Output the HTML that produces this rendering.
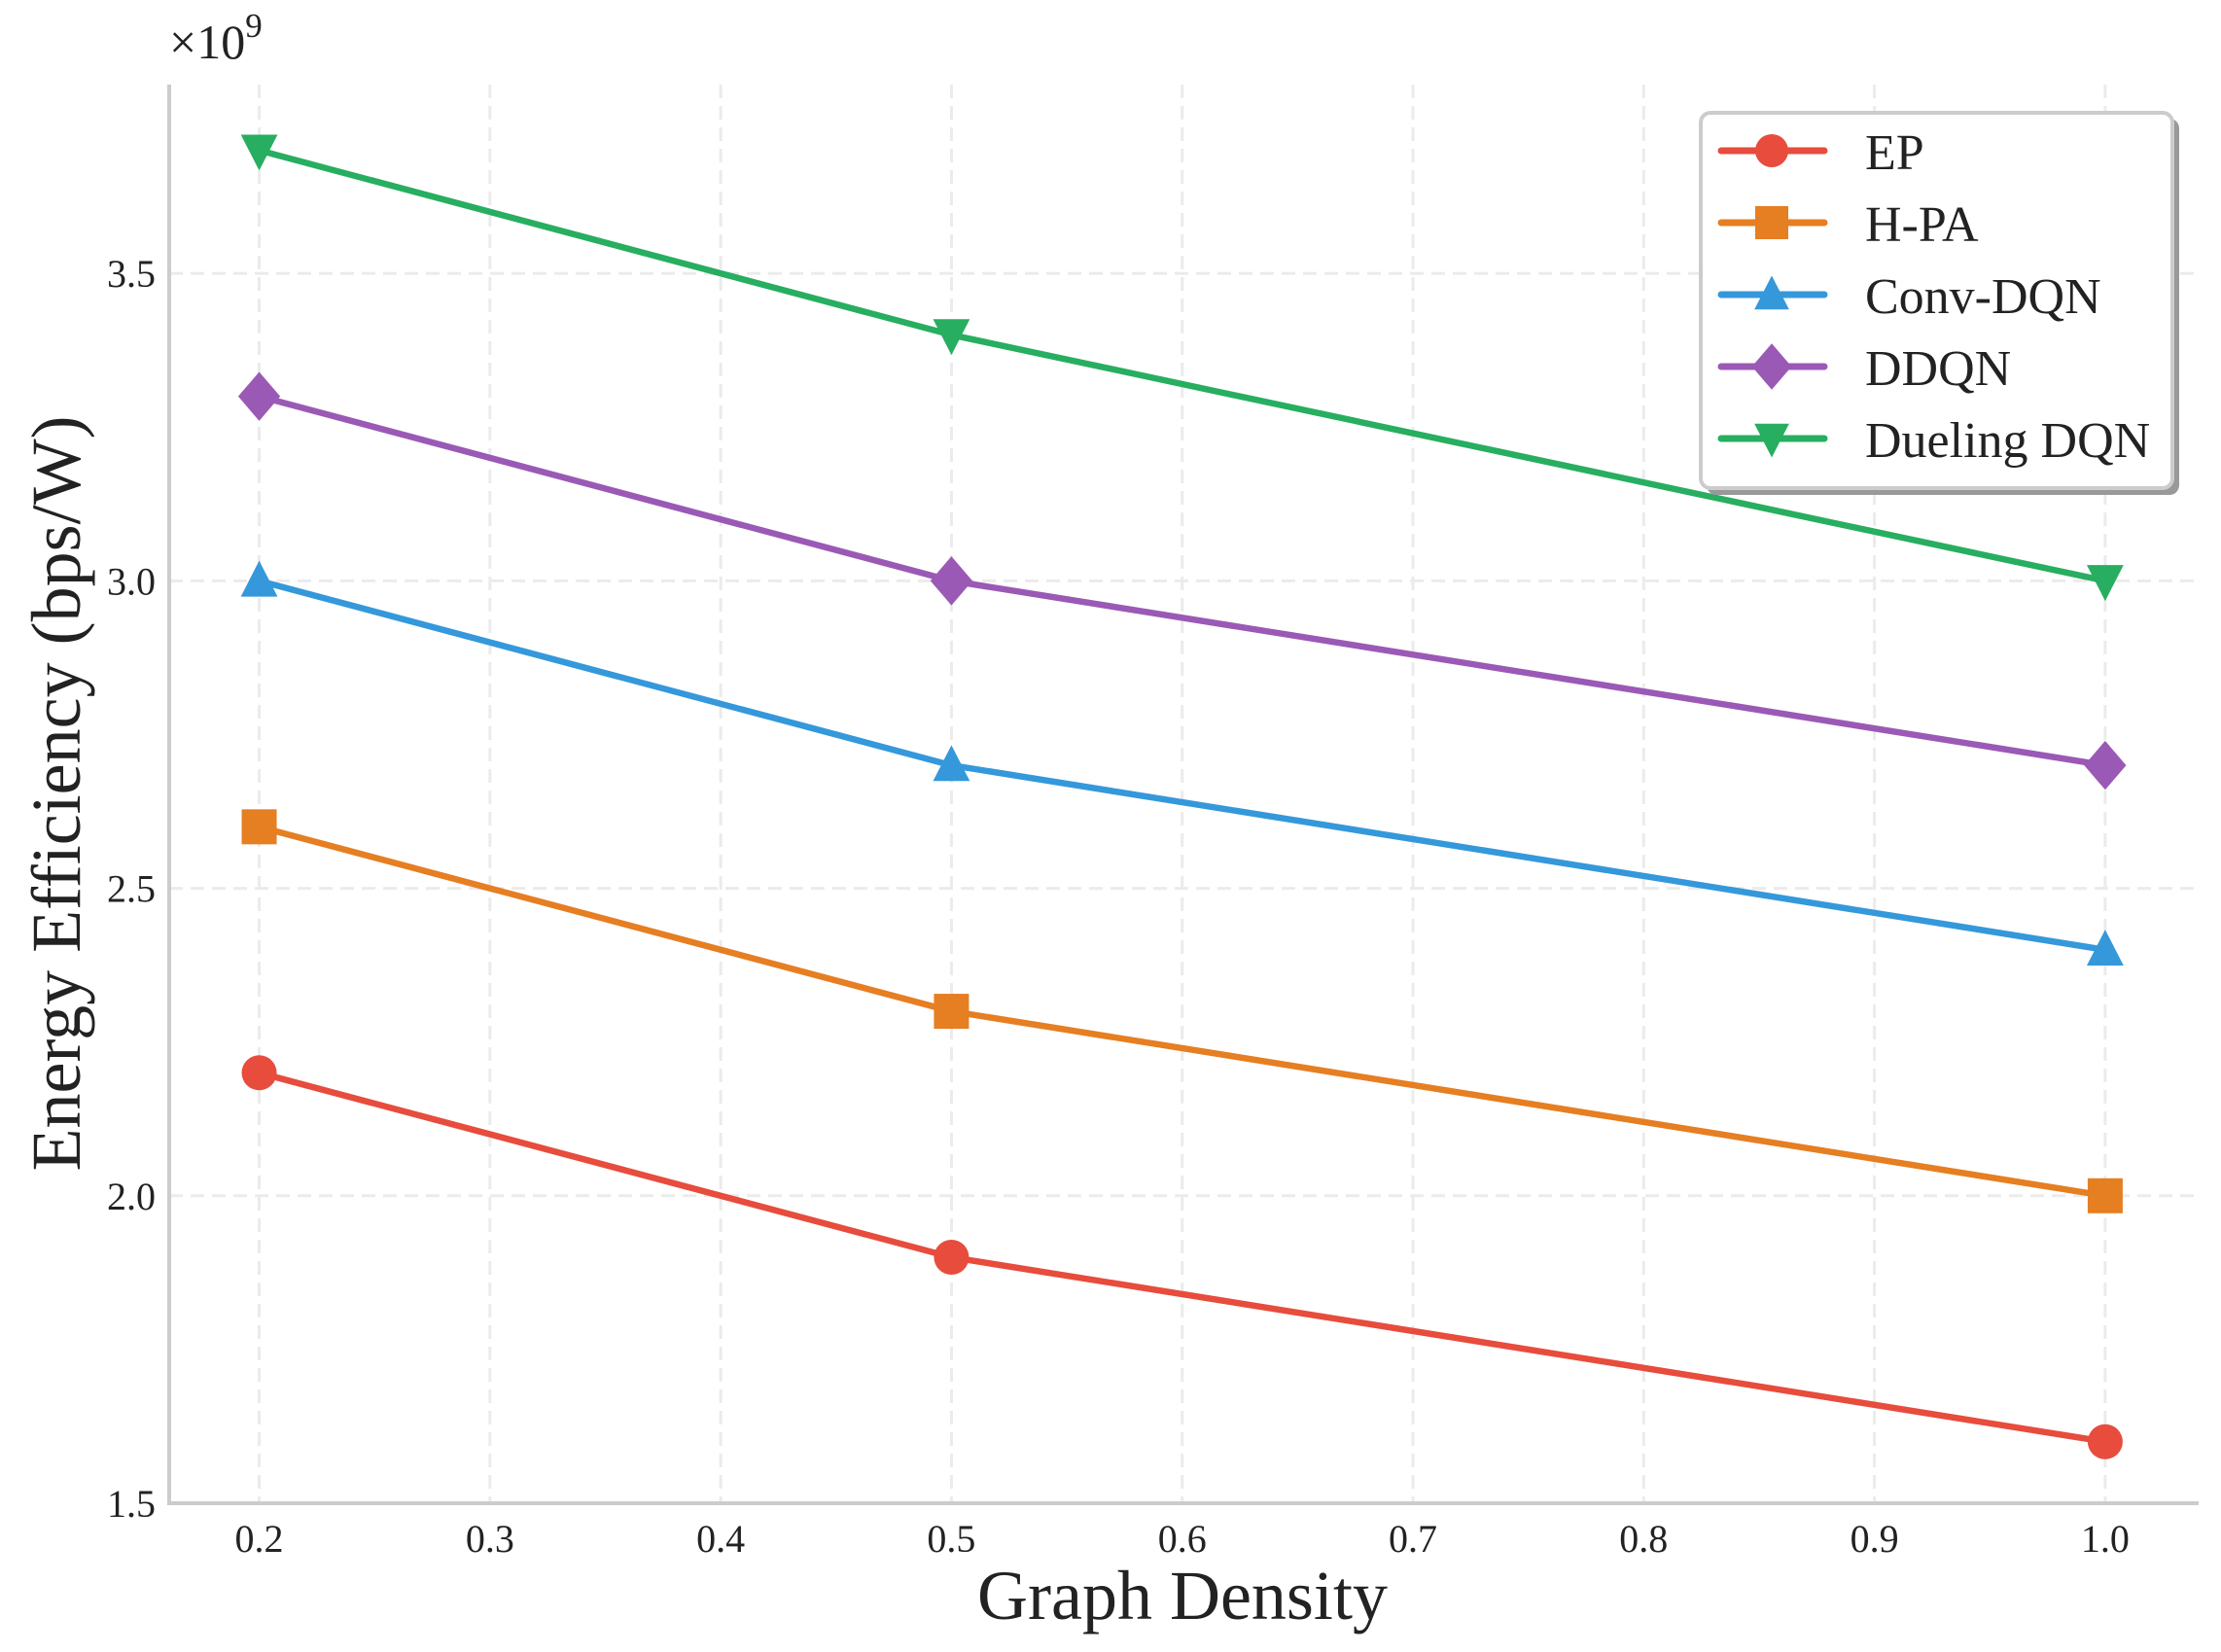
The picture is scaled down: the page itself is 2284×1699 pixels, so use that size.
<!DOCTYPE html>
<html><head><meta charset="utf-8"><style>
html,body{margin:0;padding:0;background:#fff;}
svg{display:block;font-family:"Liberation Serif","DejaVu Serif",serif;}
</style></head><body>
<svg id="chart" width="2284" height="1699" viewBox="0 0 2284 1699" xmlns="http://www.w3.org/2000/svg">
<g id="grid"></g>
<g id="axes"></g>
<g id="series"></g>
<g id="legend"></g>
</svg>
<script>
const xValues = [0.2, 0.5, 1.0];
const seriesNames = ["EP", "H-PA", "Conv-DQN", "DDQN", "Dueling DQN"];
const epValues = [2.2, 1.9, 1.6];
const hpaValues = [2.6, 2.3, 2.0];
const convValues = [3.0, 2.7, 2.4];
const ddqnValues = [3.3, 3.0, 2.7];
const duelingValues = [3.7, 3.4, 3.0];
const xTicks = ["0.2","0.3","0.4","0.5","0.6","0.7","0.8","0.9","1.0"];
const yTicks = ["1.5","2.0","2.5","3.0","3.5"];

const allValues = [epValues, hpaValues, convValues, ddqnValues, duelingValues];
const colors = ["#e74c3c","#e67e22","#3498db","#9b59b6","#27ae60"];
const markers = ["circle","square","triangle","diamond","tridown"];
const NS = "http://www.w3.org/2000/svg";
const L = 174, R = 2261, T = 87, B = 1546;
const X0 = 0.161, X1 = 1.0405, Y0 = 1.5, Y1 = 3.807;
function sx(v){ return L + (v - X0) / (X1 - X0) * (R - L); }
function sy(v){ return B - (v - Y0) / (Y1 - Y0) * (B - T); }
function mk(tag, attrs, parent){
  const e = document.createElementNS(NS, tag);
  for (const k in attrs) e.setAttribute(k, attrs[k]);
  parent.appendChild(e); return e;
}
const grid = document.getElementById('grid');
const axes = document.getElementById('axes');
const series = document.getElementById('series');
const legend = document.getElementById('legend');

xTicks.forEach(t => {
  const x = sx(parseFloat(t));
  const g = mk('line', {x1:x, x2:x, y1:T, y2:B, stroke:'#ebebeb', 'stroke-width':3, 'stroke-dasharray':'14,8'}, grid);
  
  
  const lb = mk('text', {x:x, y:B+50, 'font-size':40, fill:'#222', 'text-anchor':'middle'}, axes);
  lb.textContent = t;
  
  
});
yTicks.forEach(t => {
  const y = sy(parseFloat(t));
  const g = mk('line', {x1:L, x2:R, y1:y, y2:y, stroke:'#ebebeb', 'stroke-width':3, 'stroke-dasharray':'14,8'}, grid);
  
  
  const lb = mk('text', {x:L-14, y:y+14, 'font-size':40, fill:'#222', 'text-anchor':'end'}, axes);
  lb.textContent = t;
  
  
});
const ya = mk('line', {x1:L, x2:L, y1:T, y2:B+2, stroke:'#cccccc', 'stroke-width':4}, axes);


const xa = mk('line', {x1:L-2, x2:R, y1:B, y2:B, stroke:'#cccccc', 'stroke-width':4}, axes);



const off = mk('text', {x:174, y:60, 'font-size':50, fill:'#222'}, axes);
off.innerHTML = '×10<tspan dy="-22" font-size="35">9</tspan>';


const xt = mk('text', {x:1216, y:1665, 'font-size':72, fill:'#222', 'text-anchor':'middle'}, axes);
xt.textContent = 'Graph Density';


const ytl = mk('text', {x:0, y:0, 'font-size':72, fill:'#222', 'text-anchor':'middle', transform:'translate(82,816) rotate(-90)'}, axes);
ytl.textContent = 'Energy Efficiency (bps/W)';



function marker(type, cx, cy, color, parent, s){
  let e;
  if (type === 'circle') e = mk('circle', {cx:cx, cy:cy, r:s, fill:color}, parent);
  else if (type === 'square') e = mk('rect', {x:cx-s, y:cy-s, width:2*s, height:2*s, fill:color}, parent);
  else if (type === 'triangle') e = mk('polygon', {points:`${cx},${cy-s*1.15} ${cx-s*1.05},${cy+s*0.9} ${cx+s*1.05},${cy+s*0.9}`, fill:color}, parent);
  else if (type === 'tridown') e = mk('polygon', {points:`${cx},${cy+s*1.15} ${cx-s*1.05},${cy-s*0.9} ${cx+s*1.05},${cy-s*0.9}`, fill:color}, parent);
  else e = mk('polygon', {points:`${cx},${cy-s*1.4} ${cx+s*1.2},${cy} ${cx},${cy+s*1.4} ${cx-s*1.2},${cy}`, fill:color}, parent);
  return e;
}

allValues.forEach((vals, i) => {
  const g = mk('g', {}, series);
  
  
  const pts = vals.map((v, j) => sx(xValues[j]) + ',' + sy(v)).join(' ');
  const pl = mk('polyline', {points:pts, fill:'none', stroke:colors[i], 'stroke-width':6.5, 'stroke-linejoin':'round', 'stroke-linecap':'round'}, g);
  
  
  vals.forEach((v, j) => {
    const m = marker(markers[i], sx(xValues[j]), sy(v), colors[i], g, 18);
    
    
  });
});

const sh = mk('rect', {x:1755, y:122, width:486, height:387, rx:10, fill:'#999'}, legend);


const box = mk('rect', {x:1749, y:116, width:485, height:386, rx:10, fill:'#fff', stroke:'#cccccc', 'stroke-width':4}, legend);


seriesNames.forEach((n, i) => {
  const y = 155 + i * 74;
  const g = mk('g', {}, legend);
  
  
  mk('line', {x1:1770, x2:1876, y1:y, y2:y, stroke:colors[i], 'stroke-width':7, 'stroke-linecap':'round'}, g);
  marker(markers[i], 1822, y, colors[i], g, 17);
  const t = mk('text', {x:1918, y:y+19, 'font-size':52, fill:'#222'}, g);
  t.textContent = n;
});
</script>
</body></html>
